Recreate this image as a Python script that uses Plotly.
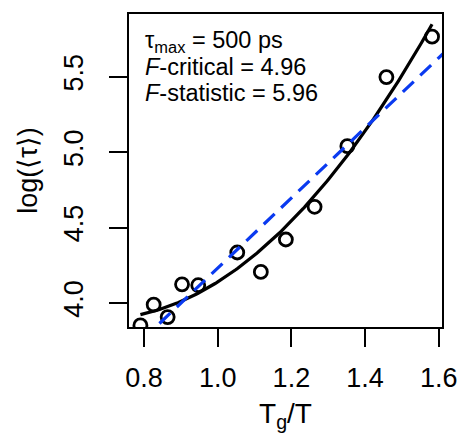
import numpy as np
import plotly.graph_objects as go

# data
tg_over_t = [0.790, 0.826, 0.864, 0.903, 0.947, 1.053, 1.117, 1.185, 1.263, 1.352, 1.458, 1.582]
log_tau = [3.852, 3.989, 3.907, 4.124, 4.118, 4.335, 4.206, 4.421, 4.638, 5.040, 5.498, 5.766]
x_ticks = [0.8, 1.0, 1.2, 1.4, 1.6]
y_ticks = [4.0, 4.5, 5.0, 5.5]
info_lines = ["τ<sub>max</sub> = 500 ps", "<i>F</i>-critical = 4.96", "<i>F</i>-statistic = 5.96"]

x = np.array(tg_over_t)
y = np.array(log_tau)

# least-squares fits (quadratic: black; linear: blue dashed)
quad = np.polyfit(x, y, 2)
lin = np.polyfit(x, y, 1)
xq = np.linspace(x.min(), x.max(), 200)
yq = np.polyval(quad, xq)
xl = np.array([0.70, 1.70])
yl = np.polyval(lin, xl)

fig = go.Figure()
fig.add_trace(go.Scatter(
    x=x, y=y, mode="markers",
    marker=dict(symbol="circle-open", size=13, color="black", line=dict(width=2.8, color="black")),
    showlegend=False, hoverinfo="skip"))
fig.add_trace(go.Scatter(
    x=xq, y=yq, mode="lines", line=dict(color="black", width=3.2),
    showlegend=False, hoverinfo="skip"))
fig.add_trace(go.Scatter(
    x=xl, y=yl, mode="lines", line=dict(color="#0a3af0", width=3.2, dash="15px,9px"),
    showlegend=False, hoverinfo="skip"))

font_family = "Liberation Sans, Arial, sans-serif"
annots = []
for i, t in enumerate(info_lines):
    annots.append(dict(
        xref="paper", yref="paper", x=0.045, y=0.913 - i * 0.0825, xanchor="left", yanchor="middle",
        align="left", showarrow=False, font=dict(size=23.5, family=font_family), text=t))

fig.update_layout(
    width=462, height=437,
    margin=dict(l=129, r=20, t=14, b=110),
    paper_bgcolor="white", plot_bgcolor="white",
    font=dict(family=font_family, color="black"),
    xaxis=dict(
        range=[0.759, 1.609], tickvals=x_ticks, ticktext=[f"{v:.1f}" for v in x_ticks],
        showgrid=False, zeroline=False, showline=True, linecolor="black", linewidth=2, mirror=True,
        ticks="outside", ticklen=18, tickwidth=2, tickcolor="black", automargin=False,
        tickfont=dict(size=27), ticklabelstandoff=8,
        title=dict(text="T<sub>g</sub>/T", font=dict(size=28), standoff=11),
    ),
    yaxis=dict(
        range=[3.841, 5.916], tickvals=y_ticks, ticktext=[f"{v:.1f}" for v in y_ticks],
        showgrid=False, zeroline=False, showline=True, linecolor="black", linewidth=2, mirror=True,
        ticks="outside", ticklen=18, tickwidth=2, tickcolor="black", automargin=False,
        tickfont=dict(size=27), tickangle=-90, ticklabelstandoff=15,
        title=dict(text="log(⟨τ⟩)", font=dict(size=27), standoff=14),
    ),
    annotations=annots,
)

fig.write_html("out.html", config={"displayModeBar": False},
               post_script="document.body.style.margin='0';document.body.style.padding='0';")
